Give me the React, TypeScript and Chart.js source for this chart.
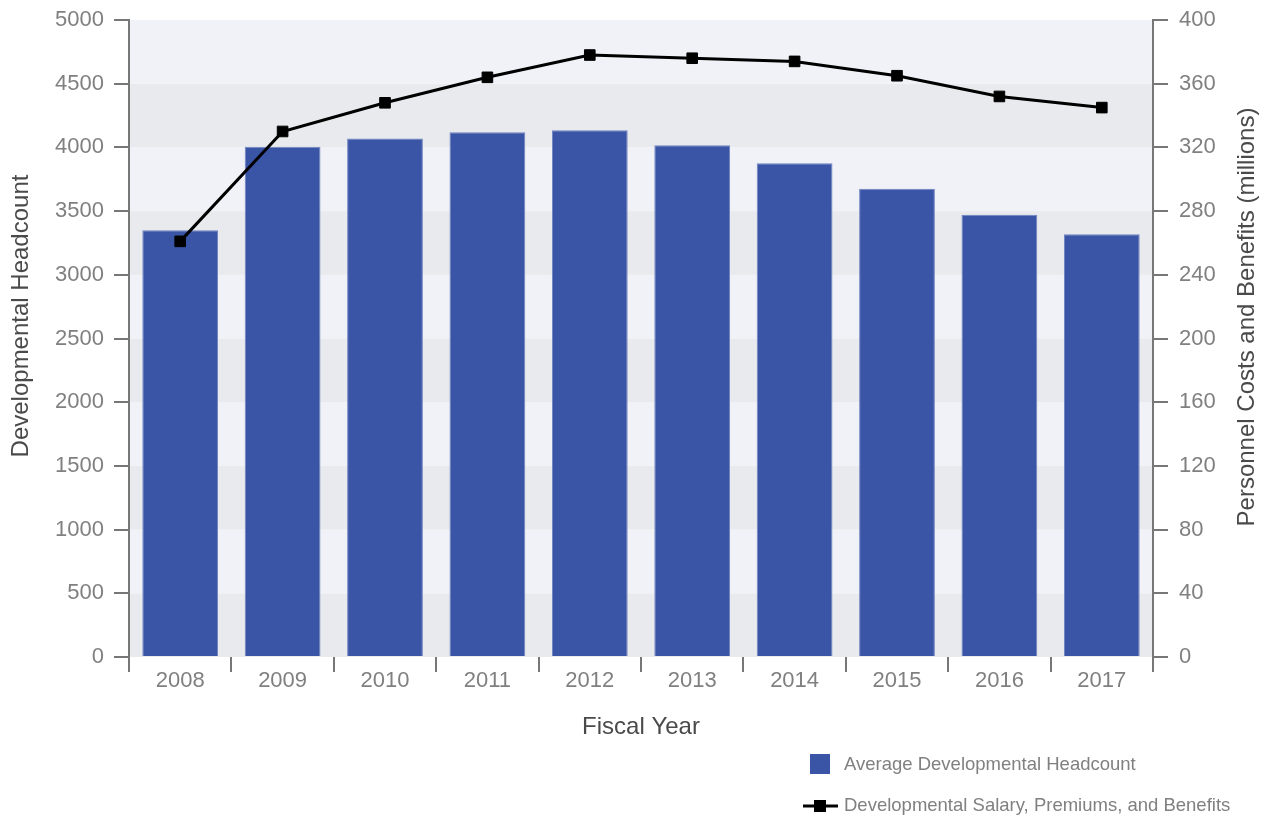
import { useEffect, useRef } from "react";
import { Chart, registerables } from "chart.js";

Chart.register(...registerables);

const fiscalYears = ["2008", "2009", "2010", "2011", "2012", "2013", "2014", "2015", "2016", "2017"];
const headcount = [3350, 4005, 4070, 4118, 4134, 4016, 3875, 3676, 3472, 3318];
const personnelCosts = [261, 330, 348, 364, 378, 376, 374, 365, 352, 345];

const headcountLabel = "Average Developmental Headcount";
const costsLabel = "Developmental Salary, Premiums, and Benefits";
const leftTitle = "Developmental Headcount";
const rightTitle = "Personnel Costs and Benefits (millions)";
const xTitle = "Fiscal Year";

const FONT = '"Liberation Sans", Arial, Helvetica, sans-serif';
const BAR_COLOR = "#3b55a6";
const BAR_BORDER = "#6f83c0";
const AXIS_COLOR = "#777777";
const TICK_COLOR = "#808080";
const TITLE_COLOR = "#4a4a4a";
const BAND_GRAY = "#e9eaed";
const BAND_BLUE = "#f0f2f7";

const bandsPlugin = {
  id: "bands",
  beforeDraw(chart: any) {
    const { ctx, chartArea } = chart;
    const y = chart.scales.y;
    const ticks = y.ticks;
    ctx.save();
    for (let i = 0; i < ticks.length - 1; i++) {
      const p0 = y.getPixelForValue(ticks[i].value);
      const p1 = y.getPixelForValue(ticks[i + 1].value);
      ctx.fillStyle = i % 2 === 0 ? BAND_GRAY : BAND_BLUE;
      ctx.fillRect(chartArea.left, p1, chartArea.right - chartArea.left, p0 - p1);
    }
    ctx.restore();
  },
};

const decorPlugin = {
  id: "decor",
  afterDraw(chart: any) {
    const { ctx } = chart;
    ctx.save();
    ctx.fillStyle = TITLE_COLOR;
    ctx.font = `24px ${FONT}`;
    ctx.textAlign = "center";
    ctx.textBaseline = "middle";
    ctx.save();
    ctx.translate(21, 316);
    ctx.rotate(-Math.PI / 2);
    ctx.fillText(leftTitle, 0, 0);
    ctx.restore();
    ctx.save();
    ctx.translate(1247, 317);
    ctx.rotate(-Math.PI / 2);
    ctx.fillText(rightTitle, 0, 0);
    ctx.restore();

    const ds = chart.data.datasets;
    ctx.font = `18.5px ${FONT}`;
    ctx.textAlign = "left";
    ctx.textBaseline = "middle";
    ctx.fillStyle = ds[0].backgroundColor;
    ctx.fillRect(810, 754, 20, 20);
    ctx.fillStyle = TICK_COLOR;
    ctx.fillText(ds[0].label, 844, 765);
    ctx.strokeStyle = ds[1].borderColor;
    ctx.lineWidth = 3;
    ctx.beginPath();
    ctx.moveTo(803, 806);
    ctx.lineTo(838, 806);
    ctx.stroke();
    ctx.fillStyle = ds[1].pointBackgroundColor;
    ctx.fillRect(814, 800, 12, 12);
    ctx.fillStyle = TICK_COLOR;
    ctx.fillText(ds[1].label, 844, 806);
    ctx.restore();
  },
};

const plainTick = (value: any) => String(value);

const fitVertical = (width: number) => (scale: any) => {
  scale.width = width;
  scale.paddingTop = 0;
  scale.paddingBottom = 0;
};

export default function App() {
  const canvasRef = useRef<HTMLCanvasElement | null>(null);

  useEffect(() => {
    const canvas = canvasRef.current;
    if (!canvas) return;
    const chart = new Chart(canvas, {
      type: "bar",
      data: {
        labels: fiscalYears,
        datasets: [
          {
            type: "bar",
            label: headcountLabel,
            data: headcount,
            backgroundColor: BAR_COLOR,
            borderColor: BAR_BORDER,
            borderWidth: 1,
            yAxisID: "y",
            barPercentage: 0.74,
            categoryPercentage: 1,
            order: 1,
          } as any,
          {
            type: "line",
            label: costsLabel,
            data: personnelCosts,
            borderColor: "#000000",
            backgroundColor: "#000000",
            pointBackgroundColor: "#000000",
            pointBorderColor: "#000000",
            borderWidth: 3,
            pointStyle: "rect",
            pointRadius: 7.5,
            pointBorderWidth: 1,
            tension: 0,
            yAxisID: "y1",
            order: 0,
          } as any,
        ],
      },
      options: {
        responsive: false,
        animation: false,
        layout: { padding: { top: 20, left: 0, right: 0, bottom: 0 } },
        plugins: {
          legend: { display: false },
          tooltip: { enabled: false },
          title: { display: false },
        },
        scales: {
          x: {
            offset: true,
            border: { display: false },
            grid: {
              offset: true,
              drawOnChartArea: false,
              drawTicks: true,
              tickLength: 15,
              color: AXIS_COLOR,
              lineWidth: 2,
            },
            ticks: {
              color: TICK_COLOR,
              font: { family: FONT, size: 22 },
              padding: -4,
              maxRotation: 0,
            },
            title: {
              display: true,
              text: xTitle,
              color: TITLE_COLOR,
              font: { family: FONT, size: 24 },
              padding: { top: 0, bottom: 75 },
            },
            afterFit: (scale: any) => {
              scale.height = 160;
            },
          },
          y: {
            position: "left",
            min: 0,
            max: 5000,
            border: { display: true, color: AXIS_COLOR, width: 2 },
            grid: {
              drawOnChartArea: false,
              drawTicks: true,
              tickLength: 15,
              color: AXIS_COLOR,
              lineWidth: 2,
            },
            ticks: {
              stepSize: 500,
              color: TICK_COLOR,
              font: { family: FONT, size: 22 },
              padding: 10,
              callback: plainTick,
            },
            afterFit: fitVertical(129),
          },
          y1: {
            position: "right",
            min: 0,
            max: 400,
            border: { display: true, color: AXIS_COLOR, width: 2 },
            grid: {
              drawOnChartArea: false,
              drawTicks: true,
              tickLength: 15,
              color: AXIS_COLOR,
              lineWidth: 2,
            },
            ticks: {
              stepSize: 40,
              color: TICK_COLOR,
              font: { family: FONT, size: 22 },
              padding: 11,
              callback: plainTick,
            },
            afterFit: fitVertical(115),
          },
        },
      } as any,
      plugins: [bandsPlugin, decorPlugin],
    });
    return () => chart.destroy();
  }, []);

  return (
    <div style={{ position: "fixed", left: 0, top: 0, width: 1268, height: 817, background: "#ffffff" }}>
      <canvas ref={canvasRef} width={1268} height={817} style={{ display: "block" }} />
    </div>
  );
}
